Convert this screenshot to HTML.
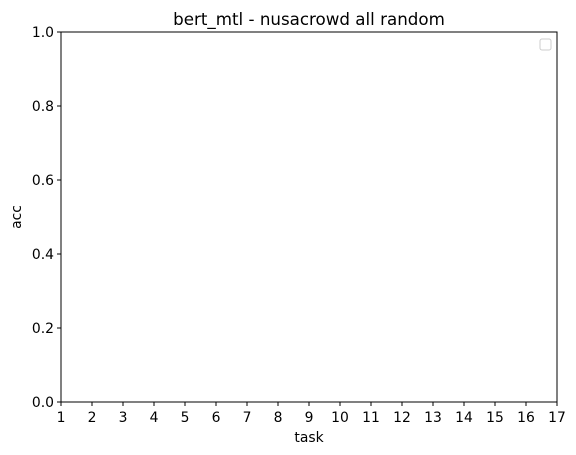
<!DOCTYPE html>
<html><head><meta charset="utf-8"><style>
body{margin:0;background:#fff;}
svg{display:block;font-family:"DejaVu Sans","Liberation Sans",sans-serif;}
</style></head><body>
<svg id="chart" width="576" height="455" viewBox="0 0 576 455">
<rect width="576" height="455" fill="#fff"/>
<text x="309" y="25" text-anchor="middle" font-size="16.7" fill="#000">bert_mtl - nusacrowd all random</text>
<g id="xt"></g>
<g id="yt"></g>
<rect x="61" y="32" width="496" height="370" fill="none" stroke="#000" stroke-width="1"/>
<text x="309" y="442" text-anchor="middle" font-size="13.9" fill="#000">task</text>
<text transform="translate(21,217) rotate(-90)" text-anchor="middle" font-size="13.9" fill="#000">acc</text>
<rect x="540" y="39" width="11" height="11" rx="2" fill="#fff" stroke="#ccc"/>
</svg>
<script>
const xTicks=[1,2,3,4,5,6,7,8,9,10,11,12,13,14,15,16,17];
const yTicks=[0.0,0.2,0.4,0.6,0.8,1.0];
const X0=61,X1=557,Y0=402,Y1=32;
const sx=v=>X0+(v-1)/16*(X1-X0);
const sy=v=>Y0-v*(Y0-Y1);
const ns="http://www.w3.org/2000/svg";
const xt=document.getElementById('xt'),yt=document.getElementById('yt');
xTicks.forEach(t=>{
  const l=document.createElementNS(ns,'line');
  l.setAttribute('x1',sx(t));l.setAttribute('x2',sx(t));l.setAttribute('y1',402);l.setAttribute('y2',406);l.setAttribute('stroke','#000');
  
  
  xt.appendChild(l);
  const s=document.createElementNS(ns,'text');
  s.setAttribute('x',sx(t));s.setAttribute('y',422);s.setAttribute('text-anchor','middle');s.setAttribute('font-size','13.9');
  s.textContent=t;
  
  
  xt.appendChild(s);
});
yTicks.forEach(t=>{
  const l=document.createElementNS(ns,'line');
  l.setAttribute('x1',57);l.setAttribute('x2',61);l.setAttribute('y1',sy(t));l.setAttribute('y2',sy(t));l.setAttribute('stroke','#000');
  
  
  yt.appendChild(l);
  const s=document.createElementNS(ns,'text');
  s.setAttribute('x',54);s.setAttribute('y',sy(t)+5);s.setAttribute('text-anchor','end');s.setAttribute('font-size','13.9');
  s.textContent=t.toFixed(1);
  
  
  yt.appendChild(s);
});
</script>
</body></html>
